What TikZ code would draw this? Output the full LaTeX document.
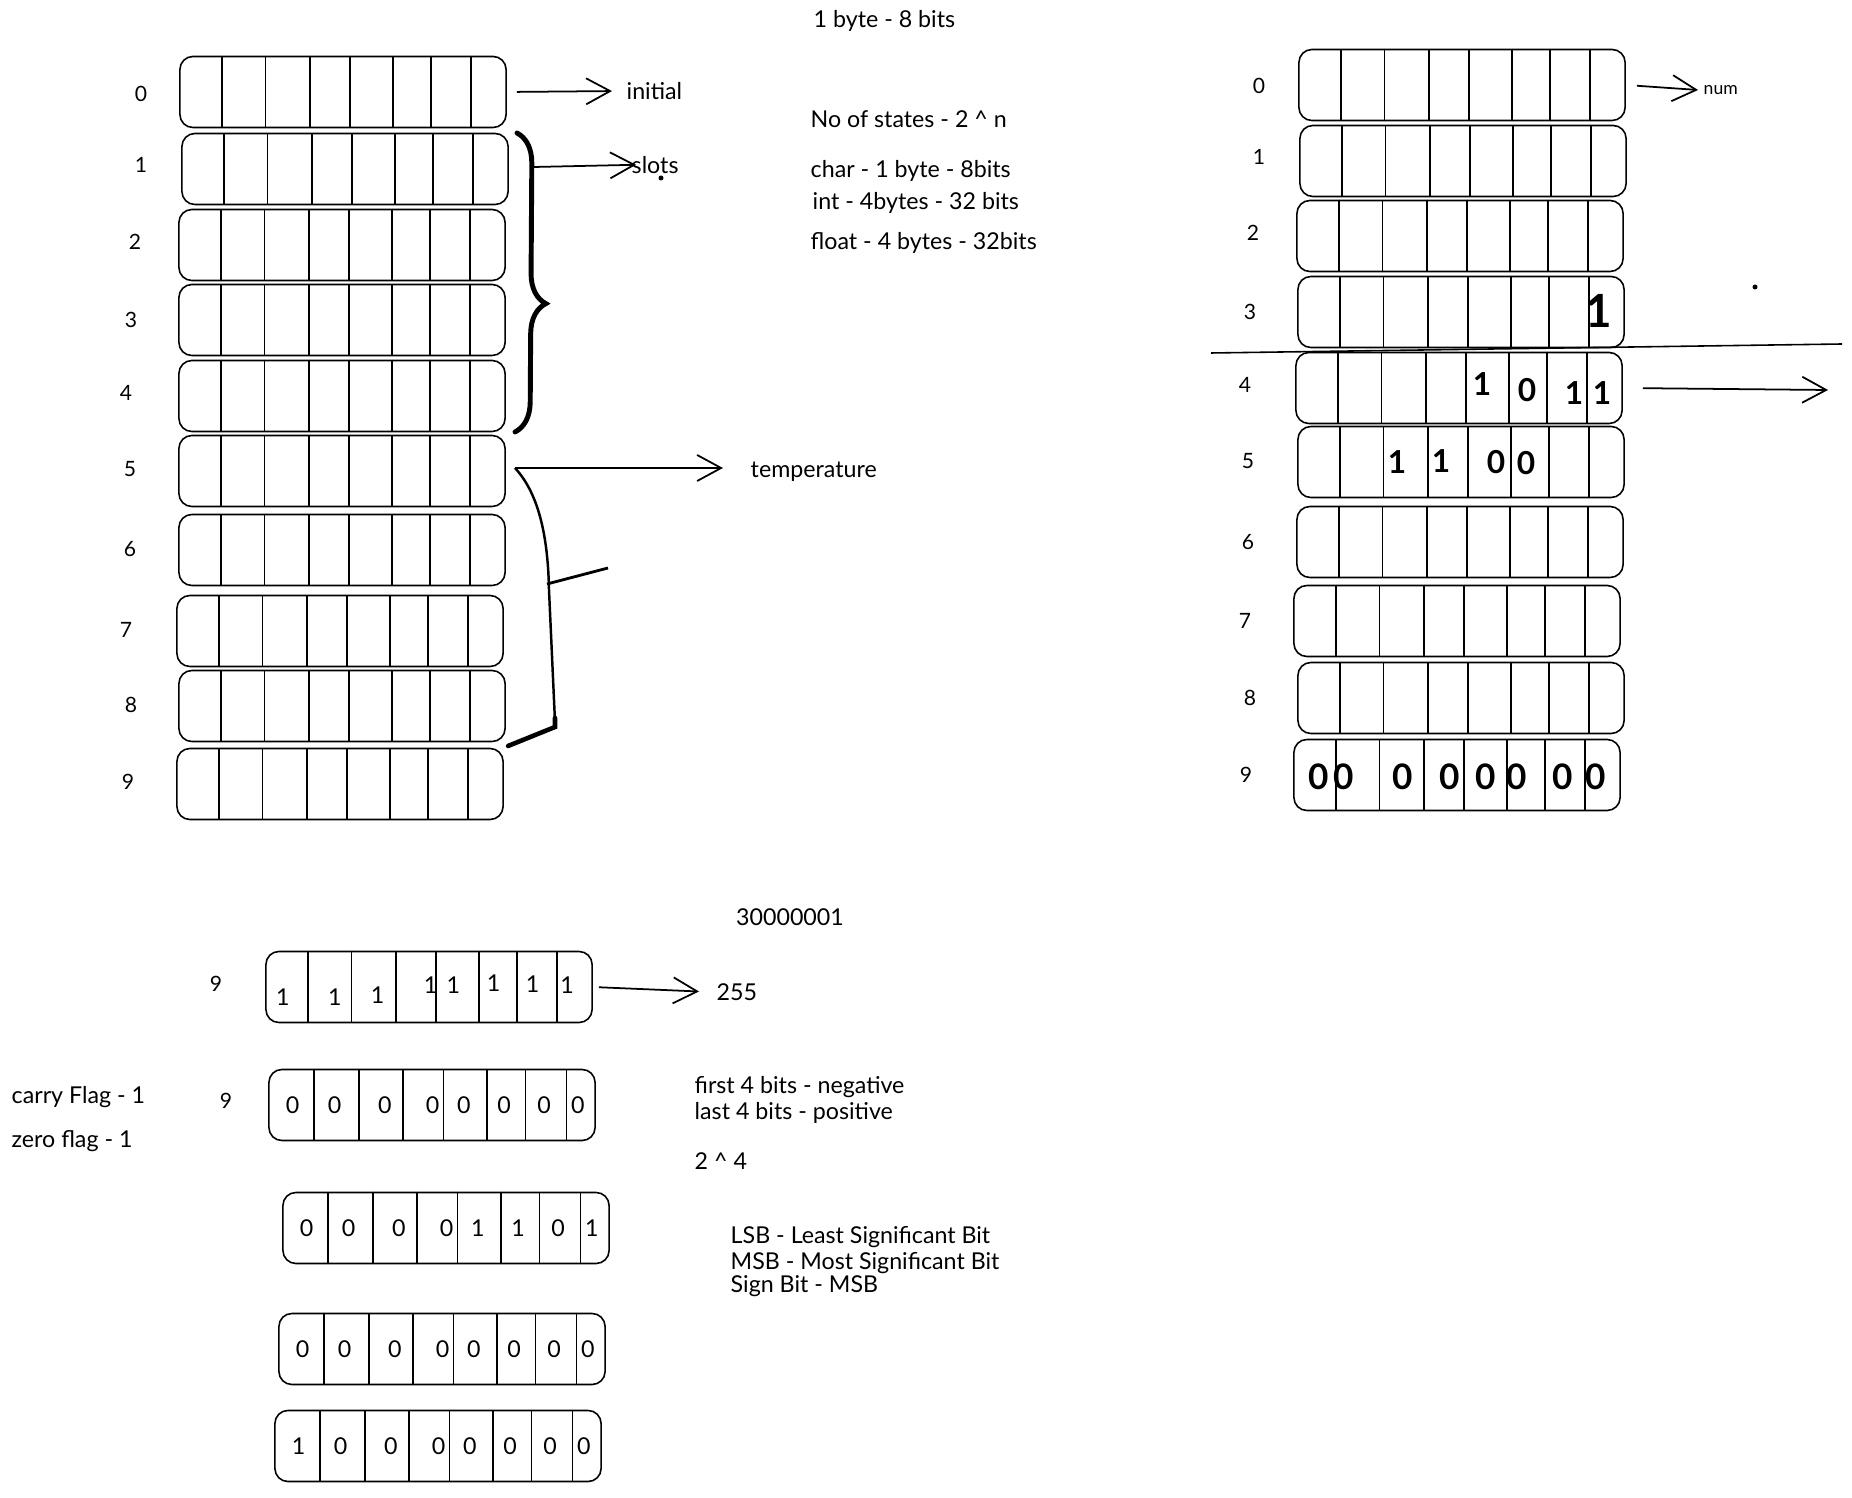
\documentclass[tikz,border=0pt]{standalone}
\usepackage{fontspec}
\setmainfont{Lato}
\usepackage{tikz}
\usetikzlibrary{arrows.meta,calc,decorations.pathreplacing}

\tikzset{
  every node/.style={font=\fontsize{6.6}{7.8}\selectfont, inner sep=0.5mm},
  byte/.style={draw, rounded corners=1.3mm, minimum width=3.26cm, minimum height=0.71cm, line width=0.45pt},
  idx/.style={font=\fontsize{6}{7}\selectfont},
  bit/.style={inner sep=0pt},
  inked/.style={font=\fontsize{9}{9}\selectfont\bfseries, inner sep=0pt},
  arr/.style={-{Straight Barb[length=2.4mm,width=2.6mm]}, line width=0.5pt},
  slotbrace/.style={decorate, decoration={brace, amplitude=3mm, aspect=0.57}, line width=1.4pt, line cap=round},
}

\newcommand\topfr{0.13,0.263,0.4,0.522,0.652,0.769,0.891}
\newcommand\lowfr{0.14,0.277,0.411,0.535,0.668,0.785,0.91}
\newcommand\cells[2]{\foreach \f in #2 \draw[line width=0.45pt] ($(#1.north west)!\f!(#1.north east)$) -- ($(#1.south west)!\f!(#1.south east)$);}
\newcommand\bits[2]{\foreach \v [count=\i from 0] in {#2} {\pgfmathsetmacro\bx{{0.075,0.203,0.356,0.502,0.597,0.72,0.842,0.945}[\i]}
  \node[bit] (#1-\i) at ($(#1.west)!\bx!(#1.east)$) {\v};}}

\begin{document}
\begin{tikzpicture}[x=0.01cm, y=-0.01cm]
\useasboundingbox (0,0) rectangle (1852,1498);

% left memory
\foreach \n/\x/\y/\lx/\ly in {0/343/92/141/94, 1/345/169/141/165, 2/342/245/135/242, 3/342/320/131/320, 4/342/396/126/393,
    5/342/471/130/469, 6/342/550/130/549, 7/340/631/126/630, 8/342/706/131/705, 9/340/784/128/782} {
  \node[byte] (L\n) at (\x,\y) {};
  \cells{L\n}{\topfr}
  \node[idx] (iL\n) at (\lx,\ly) {\n};
}

\node[anchor=west] (init) at (621,91) {initial};
\draw[arr, shorten <=1mm, shorten >=0.9mm] (L0.east) -- (init.west);

\draw[slotbrace] (517,133) -- (515,432);
\coordinate (slotsfrom) at (534,167);
\node[anchor=west] (slots) at (626,165) {slots};
\draw[arr, shorten >=-1mm] (slotsfrom) -- (slots.west);
\fill (661,178) circle (0.25mm);

\coordinate (tempfrom) at (515,468);
\node[anchor=west] (temp) at (745,472) {temperature};
\draw[arr, shorten >=2.2mm] (tempfrom) -- (tempfrom -| temp.west);
\draw[line width=0.7pt] (tempfrom) .. controls (540,495) and (548,540) .. (549,590) -- (555,722);
\draw[line width=1.3pt, line cap=round] (555,718) -- (555,727) -- (508,746);
\draw[line width=0.8pt] (547,584) -- (608,568);

% notes
\node[anchor=west] (byte) at (808,21) {1 byte - 8 bits};
\node[anchor=west] (states) at (805,119) {No of states - 2 \textasciicircum{} n};
\node[anchor=west] (char) at (805,171) {char - 1 byte - 8bits};
\node[anchor=west] (int) at (807,203) {int - 4bytes - 32 bits};
\node[anchor=west] (float) at (805,243) {float - 4 bytes - 32bits};

% right memory
\foreach \n/\x/\y/\lx/\ly in {0/1462/85/1259/86, 1/1463/161/1259/157, 2/1460/236/1253/233, 3/1461/312/1250/312, 4/1459/388/1245/385,
    5/1461/462/1248/461, 6/1460/542/1248/542, 7/1457/621/1245/621, 8/1461/698/1250/698, 9/1457/775/1246/775} {
  \node[byte] (R\n) at (\x,\y) {};
  \cells{R\n}{\topfr}
  \node[idx] (iR\n) at (\lx,\ly) {\n};
}

\node[anchor=west, font=\fontsize{5}{6}\selectfont] (num) at (1698,90) {num};
\draw[arr, shorten <=1.1mm] (R0.east) -- (num.west);

\draw[line width=0.45pt] (1211,353) -- (1842,344);
\coordinate (r4end) at (1828,390);
\draw[arr, shorten <=2mm] (R4.east) -- (r4end);
\fill (1755,287) circle (0.25mm);

\node[inked, font=\fontsize{13}{13}\selectfont\bfseries] (R3-7) at (1599,311) {1};
\foreach \x/\y/\v [count=\i] in {1482/384/1, 1527/390/0, 1574/393/1, 1602/393/1}
  \node[inked] (R4-\i) at (\x,\y) {\v};
\foreach \x/\y/\v [count=\i] in {1397/462/1, 1441/461/1, 1496/462/0, 1526/463/0}
  \node[inked] (R5-\i) at (\x,\y) {\v};
\foreach \x [count=\i] in {1319,1344,1403,1450,1486,1517,1563,1596}
  \node[inked, font=\fontsize{10}{10}\selectfont\bfseries] (R9-\i) at (\x,777) {0};

% bit rows
\node (big) at (790,917) {30000001};

\node[byte] (B1) at (429,987) {};
\cells{B1}{\topfr}
\node[idx] (iB1) at (216,984) {9};
\foreach \f/\dy [count=\i] in {0.054/10, 0.213/10, 0.343/8, 0.505/-2, 0.574/-2, 0.697/-4, 0.816/-3, 0.921/-2}
  \node[bit] (B1-\i) at ($(B1.west)!\f!(B1.east)+(0,\dy)$) {1};
\node[anchor=west] (n255) at (711,992) {255};
\draw[arr, shorten <=0.6mm, shorten >=1.2mm] (B1.east) -- (n255.west);

\node[byte] (B2) at (432,1105) {};
\cells{B2}{\lowfr}
\bits{B2}{0,0,0,0,0,0,0,0}
\node[idx] (iB2) at (226,1101) {9};

\node[anchor=west] (carry) at (6,1097) {carry Flag - 1};
\node[anchor=west] (zero) at (6,1141) {zero flag - 1};
\node[anchor=west] (first) at (689,1087) {first 4 bits - negative};
\node[anchor=west] (last) at (689,1113) {last 4 bits - positive};
\node[anchor=west] (pow) at (689,1161) {2 \textasciicircum{} 4};

\node[byte] (B3) at (446,1228) {};
\cells{B3}{\lowfr}
\bits{B3}{0,0,0,0,1,1,0,1}

\node[anchor=west] (lsb) at (725,1237) {LSB - Least Significant Bit};
\node[anchor=west] (msb) at (725,1263) {MSB - Most Significant Bit};
\node[anchor=west] (sign) at (725,1286) {Sign Bit - MSB};

\node[byte] (B4) at (442,1349) {};
\cells{B4}{\lowfr}
\bits{B4}{0,0,0,0,0,0,0,0}

\node[byte] (B5) at (438,1446) {};
\cells{B5}{\lowfr}
\bits{B5}{1,0,0,0,0,0,0,0}
\end{tikzpicture}
\end{document}
